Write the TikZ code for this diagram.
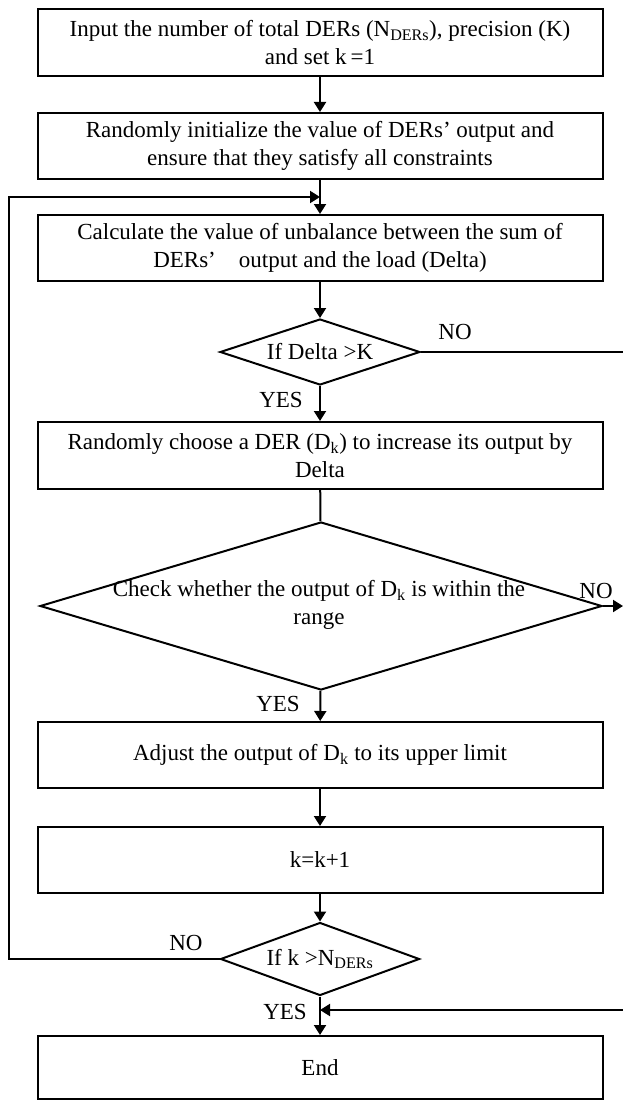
\documentclass[tikz,border=0pt]{standalone}
\usepackage{fontspec}
\setmainfont{Liberation Serif}
\usetikzlibrary{arrows.meta,shapes.geometric,calc}

\begin{document}
\begin{tikzpicture}[x=1pt,y=-1pt,
    every node/.style={font=\fontsize{23}{28}\selectfont},
    proc/.style={draw,line width=2pt,minimum width=565pt,inner sep=0pt,align=center},
    decide/.style={draw,diamond,aspect=3,line width=2pt,inner sep=0pt},
    lbl/.style={inner sep=0pt},
    flow/.style={line width=2pt,-{Triangle[width=12pt,length=10pt]}}]

    \useasboundingbox (0,0) rectangle (623,1102);

    % Kotak proses dan keputusan dari atas ke bawah
    \node[proc,minimum height=67pt] (inp) at (320,42.5) {Input the number of total DERs (N\textsubscript{DERs}), precision (K)\\and set k\,=1};
    \node[proc,minimum height=66pt] (init) at (320,146) {Randomly initialize the value of DERs’ output and\\ensure that they satisfy all constraints};
    \node[proc,minimum height=66pt] (calc) at (320,248) {Calculate the value of unbalance between the sum of\\DERs’\quad output and the load (Delta)};
    \node[decide,minimum width=200pt,minimum height=66pt] (ifdelta) at (320,352) {If Delta >K};
    \node[proc,minimum height=67pt] (pick) at (320,455.5) {Randomly choose a DER (D\textsubscript{k}) to increase its output by\\Delta};
    \node[decide,minimum width=562pt,minimum height=168pt] (check) at (321,606) {};
    \node[align=center] (checktxt) at (319,605) {Check whether the output of D\textsubscript{k} is within the\\range};
    \node[proc,minimum height=66pt] (adj) at (320,755) {Adjust the output of D\textsubscript{k} to its upper limit};
    \node[proc,minimum height=66pt] (inc) at (320,860) {k=k+1};
    \node[decide,minimum width=199pt,minimum height=73pt] (ifk) at (320,959) {If k >N\textsubscript{DERs}};
    \node[proc,minimum height=63pt] (fin) at (320,1067.5) {End};

    % Panah alur utama
    \draw[flow] (inp) -- (init);
    \draw[flow] (init) -- (calc);
    \draw[flow] (calc) -- (ifdelta);
    \draw[flow] (ifdelta) -- (pick);
    \draw[line width=2pt] (pick) -- (check);
    \draw[flow] (check) -- (adj);
    \draw[flow] (adj) -- (inc);
    \draw[flow] (inc) -- (ifk);
    \draw[flow] (ifk) -- (fin);

    % Panah kembali (NO) ke kotak perhitungan
    \coordinate (joinpt) at ($(init.south)!0.5!(calc.north)$);
    \coordinate (leftx) at (9,0);
    \draw[flow] (ifk.west) -- (ifk.west -| leftx) -- (joinpt -| leftx) -- (joinpt);

    % Cabang NO ke kanan dan panah masuk sebelum End
    \coordinate (rightx) at (623,0);
    \coordinate (mergept) at (320,1010);
    \draw[line width=2pt] (ifdelta.east) -- (ifdelta.east -| rightx);
    \draw[flow] (check.east) -- (check.east -| rightx);
    \draw[flow] (mergept -| rightx) -- (mergept);

    % Label YES / NO
    \node[lbl] (no1) at (455,332) {NO};
    \node[lbl] (yes1) at (281,400) {YES};
    \node[lbl] (no2) at (596,591) {NO};
    \node[lbl] (yes2) at (278,704) {YES};
    \node[lbl] (no3) at (186,943) {NO};
    \node[lbl] (yes3) at (285,1012) {YES};

\end{tikzpicture}
\end{document}
